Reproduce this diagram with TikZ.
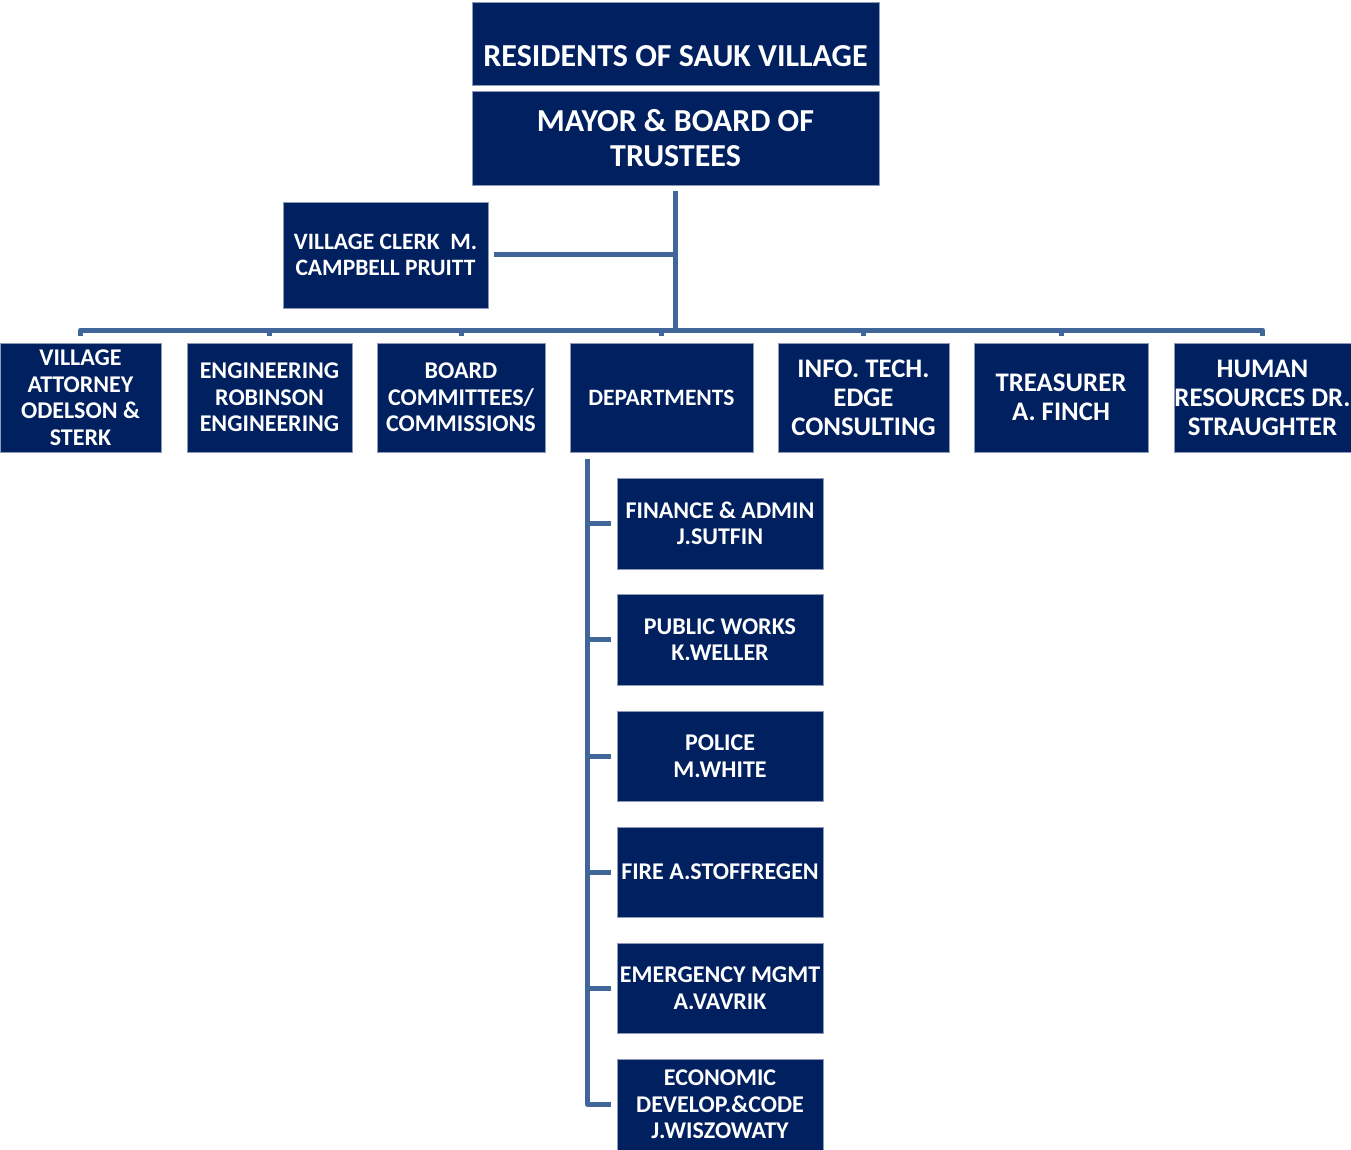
\documentclass[tikz,border=0pt]{standalone}
\usepackage{fontspec}
\setmainfont{Carlito}
\definecolor{navy}{HTML}{002060}
\definecolor{conn}{HTML}{41679A}
\begin{document}
\begin{tikzpicture}[x=1pt,y=-1pt,
  box/.style={fill=navy, draw=navy!45!white, line width=0.6pt, text=white, font=\bfseries, align=center, inner sep=0pt},
  big/.style={box, font=\fontsize{32}{35}\selectfont\bfseries},
  mid/.style={box, font=\fontsize{26.8}{29}\selectfont\bfseries},
  sm/.style={box, font=\fontsize{24}{26.5}\selectfont\bfseries},
  conline/.style={conn, line width=5pt, line join=round}]
\useasboundingbox (0,0) rectangle (1351,1150);
\fill[white] (0,0) rectangle (1351,1150);
% top
\node[big, minimum width=407pt, minimum height=83pt,
  label={[yshift=-12.5pt, text=white, font=\fontsize{32}{35}\selectfont\bfseries]center:RESIDENTS OF SAUK VILLAGE}] (res) at (675.5,43.5) {};
\node[big, minimum width=407pt, minimum height=94pt] (mayor) at (675.5,138) {MAYOR \& BOARD OF\\TRUSTEES};
\node[box, font=\fontsize{23.5}{26}\selectfont\bfseries, minimum width=205pt, minimum height=106pt] (clerk) at (385.5,255) {VILLAGE CLERK\ \ M.\\CAMPBELL PRUITT};
% row
\node[sm, minimum width=161pt, minimum height=109pt] (att) at (80.5,397.5) {VILLAGE\\ATTORNEY\\ODELSON \&\\STERK};
\node[sm, minimum width=165pt, minimum height=109pt] (eng) at (269.5,397.5) {ENGINEERING\\ROBINSON\\ENGINEERING};
\node[sm, minimum width=168pt, minimum height=109pt] (board) at (461,397.5) {BOARD\\COMMITTEES/\\COMMISSIONS};
\node[box, font=\fontsize{23.5}{26}\selectfont\bfseries, minimum width=183pt, minimum height=109pt] (dept) at (661.5,397.5) {DEPARTMENTS};
\node[mid, minimum width=171pt, minimum height=109pt] (it) at (863.5,397.5) {INFO. TECH.\\EDGE\\CONSULTING};
\node[mid, minimum width=174pt, minimum height=109pt] (tre) at (1061,397.5) {TREASURER\\A. FINCH};
\node[mid, minimum width=177pt, minimum height=109pt] (hr) at (1262.5,397.5) {HUMAN\\RESOURCES DR.\\STRAUGHTER};
% departments
\node[sm, minimum width=206pt, minimum height=91pt] (fin) at (720,523.5) {FINANCE \& ADMIN\\J.SUTFIN};
\node[sm, minimum width=206pt, minimum height=91pt] (pw) at (720,639.5) {PUBLIC WORKS\\K.WELLER};
\node[sm, minimum width=206pt, minimum height=90pt] (pol) at (720,756) {POLICE\\M.WHITE};
\node[sm, minimum width=206pt, minimum height=90pt] (fire) at (720,872) {FIRE A.STOFFREGEN};
\node[sm, minimum width=206pt, minimum height=90pt] (em) at (720,988) {EMERGENCY MGMT\\A.VAVRIK};
\node[sm, minimum width=206pt, minimum height=91pt] (eco) at (720,1104.5) {ECONOMIC\\DEVELOP.\&CODE\\J.WISZOWATY};
% connectors
\coordinate (bus) at (676,330);
\draw[conline] ([yshift=-6pt]mayor.south) -- (mayor.south |- bus);
\draw[conline] ([xshift=6pt]clerk.east) -- (clerk.east -| mayor.south);
\draw[conline] ([yshift=7pt]att.north) -- (att.north |- bus) -- (hr.north |- bus) -- ([yshift=7pt]hr.north);
\foreach \n in {eng,board,dept,it,tre}{
  \draw[conline] (\n.north |- bus) -- ([yshift=7pt]\n.north);
}
\coordinate (dv) at ([xshift=18pt,yshift=-7pt]dept.south west);
\draw[conline] (dv) -- (dv |- eco.west) -- ([xshift=-6pt]eco.west);
\foreach \n in {fin,pw,pol,fire,em}{
  \draw[conline] (dv |- \n.west) -- ([xshift=-6pt]\n.west);
}
\end{tikzpicture}
\end{document}
